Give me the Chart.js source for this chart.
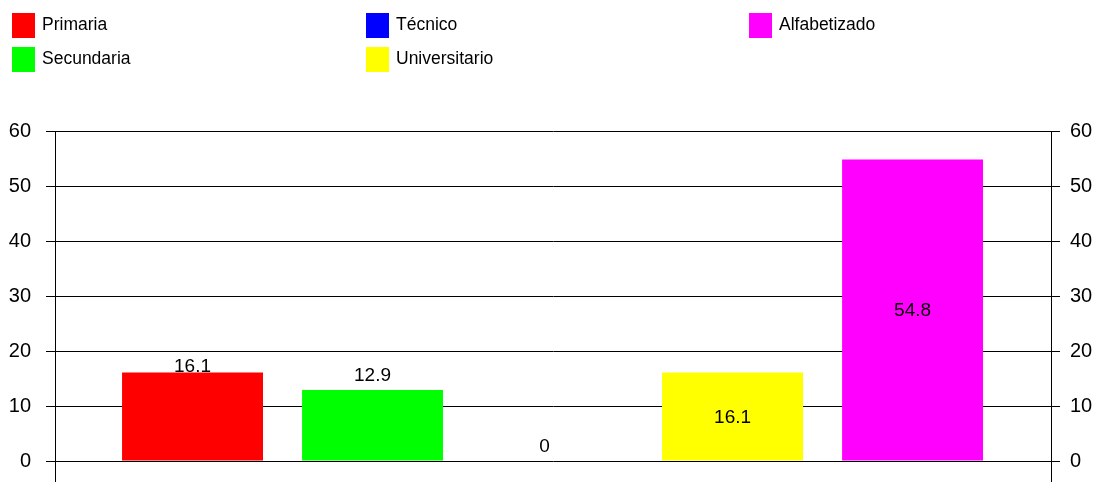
<!DOCTYPE html>
<html>
<head>
<meta charset="utf-8">
<script src="https://cdn.jsdelivr.net/npm/chart.js@4"></script>
<style>
  html, body { margin: 0; padding: 0; background: #fff; }
  #wrap { width: 1099px; height: 482px; position: relative; }
</style>
</head>
<body>
<div id="wrap"><canvas id="nivelChart"></canvas></div>
<script>
// Data
const categories = ['Primaria', 'Secundaria', 'Técnico', 'Universitario', 'Alfabetizado'];
const values = [16.1, 12.9, 0, 16.1, 54.8];
const barColors = ['#ff0000', '#00ff00', '#0000ff', '#ffff00', '#ff00ff'];
const yTicks = [0, 10, 20, 30, 40, 50, 60];

// Legend is laid out in columns, top to bottom
const legendColumns = [[0, 1], [2, 3], [4]];
const legendColumnX = [12, 366, 749];

// Where each value label goes: 'end' = above the bar, 'center' = inside
const labelPlacement = ['end', 'end', 'end', 'center', 'center'];
const labelShift = [[0, -6], [0, -14], [-8, -14], [0, 1], [0, 1]];

Chart.defaults.font.family = '"Liberation Sans", Arial, sans-serif';
Chart.defaults.color = '#000';

// Draws the column legend at the top of the canvas
const columnLegend = {
  id: 'columnLegend',
  afterDraw(chart) {
    const ctx = chart.ctx;
    ctx.save();
    ctx.font = '17.5px "Liberation Sans", Arial, sans-serif';
    ctx.textBaseline = 'middle';
    ctx.textAlign = 'left';
    legendColumns.forEach((col, c) => {
      col.forEach((idx, r) => {
        const x = legendColumnX[c];
        const y = 13 + r * 34;
        ctx.fillStyle = barColors[idx];
        ctx.fillRect(x, y, 23, 25);
        ctx.fillStyle = '#000';
        ctx.fillText(categories[idx], x + 30, y + 12.5);
      });
    });
    ctx.restore();
  }
};

// Value labels on the bars
const barValues = {
  id: 'barValues',
  afterDatasetsDraw(chart) {
    const ctx = chart.ctx;
    const meta = chart.getDatasetMeta(0);
    ctx.save();
    ctx.font = '19px "Liberation Sans", Arial, sans-serif';
    ctx.fillStyle = '#000';
    ctx.textAlign = 'center';
    ctx.textBaseline = 'middle';
    meta.data.forEach((bar, i) => {
      const shift = labelShift[i];
      let y = bar.y;
      if (labelPlacement[i] === 'center') {
        y = (bar.y + bar.base) / 2;
      }
      ctx.fillText(String(values[i]), bar.x + shift[0], y + shift[1]);
    });
    ctx.restore();
  }
};

// The two vertical axis lines run down to the bottom edge
const axisExtend = {
  id: 'axisExtend',
  afterDraw(chart) {
    const { ctx, chartArea } = chart;
    ctx.save();
    ctx.strokeStyle = '#000';
    ctx.lineWidth = 1;
    ctx.beginPath();
    [chartArea.left, chartArea.right].forEach(x => {
      const px = Math.round(x) + 0.5;
      ctx.moveTo(px, chartArea.bottom);
      ctx.lineTo(px, chart.height);
    });
    ctx.stroke();
    ctx.restore();
  }
};

const tickOpts = (padding) => ({
  stepSize: 10,
  padding: padding,
  color: '#000',
  font: { size: 20 }
});

// fixed axis width, and no extra room for the end labels
const fitAxis = (width) => (scale) => {
  scale.width = width;
  scale.paddingTop = 0;
  scale.paddingBottom = 0;
};

new Chart(document.getElementById('nivelChart'), {
  type: 'bar',
  data: {
    datasets: [{
      label: 'Nivel',
      data: values.map((v, i) => ({ x: i, y: v })),
      backgroundColor: barColors,
      borderWidth: 0,
      categoryPercentage: 1,
      barPercentage: 0.783
    }]
  },
  options: {
    responsive: true,
    maintainAspectRatio: false,
    animation: false,
    layout: {
      padding: { top: 131, bottom: 21, left: 0, right: 0 }
    },
    plugins: {
      legend: { display: false },
      tooltip: { enabled: false }
    },
    scales: {
      x: {
        type: 'linear',
        min: -0.764,
        max: 4.769,
        offset: false,
        display: false,
        afterBuildTicks: (scale) => { scale.ticks = categories.map((c, i) => ({ value: i })); }
      },
      y: {
        position: 'left',
        min: 0,
        max: 60,
        afterBuildTicks: (scale) => { scale.ticks = yTicks.map(v => ({ value: v })); },
        afterFit: fitAxis(55),
        ticks: tickOpts(15),
        grid: { color: '#000', lineWidth: 1, tickLength: 9 },
        border: { display: true, color: '#000', width: 1 }
      },
      y2: {
        position: 'right',
        min: 0,
        max: 60,
        afterBuildTicks: (scale) => { scale.ticks = yTicks.map(v => ({ value: v })); },
        afterFit: fitAxis(48),
        ticks: tickOpts(10),
        grid: { color: '#000', lineWidth: 1, tickLength: 9, drawOnChartArea: false },
        border: { display: true, color: '#000', width: 1 }
      }
    }
  },
  plugins: [columnLegend, barValues, axisExtend]
});
</script>
</body>
</html>
